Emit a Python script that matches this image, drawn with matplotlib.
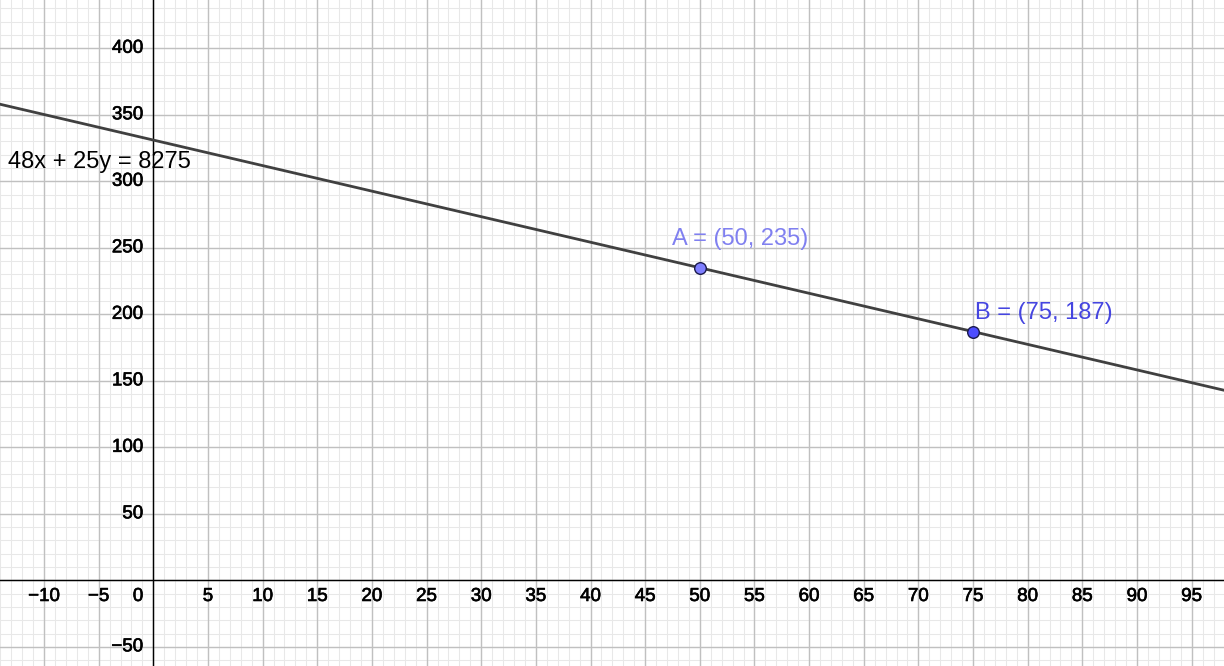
import matplotlib
matplotlib.use('Agg')
import matplotlib.pyplot as plt
import matplotlib.patheffects as pe
import numpy as np

# line a*x + b*y = c
a, b, c = 48, 25, 8275
pt_names = ['A', 'B']
pt_x = [50, 75]
pt_y = [235, 187]
pt_face = ['#7f7fff', '#4d4dff']
pt_text = ['#8080f0', '#4545e0']
pt_offs = [(-19.7, 16.5), (1.4, 8.8)]  # label offsets in points

x_ticks = [-10, -5, 5, 10, 15, 20, 25, 30, 35, 40, 45, 50, 55, 60, 65, 70, 75, 80, 85, 90, 95]
y_ticks = [-50, 50, 100, 150, 200, 250, 300, 350, 400]
xmin, xmax = -14.03, 97.96
ymin, ymax = -64.4, 436.3

plt.rcParams['font.family'] = ['Liberation Sans', 'DejaVu Sans']
fig = plt.figure(figsize=(12.24, 6.66), dpi=100)
ax = fig.add_axes([0, 0, 1, 1])
ax.set_xlim(xmin, xmax)
ax.set_ylim(ymin, ymax)
for s in ax.spines.values():
    s.set_visible(False)
ax.set_xticks([])
ax.set_yticks([])

# grid
for gx in np.arange(-14, 98, 1):
    ax.axvline(gx, color='#e8e8e8', lw=0.75, zorder=0)
for gy in np.arange(-60, 440, 10):
    ax.axhline(gy, color='#e8e8e8', lw=0.75, zorder=0)
for gx in np.arange(-10, 98, 5):
    ax.axvline(gx, color='#c0c0c0', lw=1.0, zorder=1)
for gy in np.arange(-50, 440, 50):
    ax.axhline(gy, color='#c0c0c0', lw=1.0, zorder=1)
ax.axhline(0, color='black', lw=1.0, zorder=2)
ax.axvline(0, color='black', lw=1.0, zorder=2)

# tick labels (slightly heavier, like the reference)
heavy = [pe.withStroke(linewidth=0.45, foreground='black')]
tick_kw = dict(fontsize=13.5, color='black', textcoords='offset points', path_effects=heavy)
for t in x_ticks:
    ax.annotate(str(t).replace('-', '\u2212'), (t, 0), xytext=(0, -5.5),
                ha='center', va='top', **tick_kw)
ax.annotate('0', (0, 0), xytext=(-7.2, -5.5), ha='right', va='top', **tick_kw)
for t in y_ticks:
    ax.annotate(str(t).replace('-', '\u2212'), (0, t), xytext=(-7.2, 0),
                ha='right', va='center', **tick_kw)

# line
lx = np.array([xmin, xmax])
ly = (c - a * lx) / b
ax.plot(lx, ly, color='#404040', lw=2.0, zorder=3)
ax.text(8 / 1224 * (xmax - xmin) + xmin, 310, '%dx + %dy = %d' % (a, b, c),
        fontsize=17, color='black', ha='left', va='baseline', zorder=4)

# points
for n, x, y, fc, tc, off in zip(pt_names, pt_x, pt_y, pt_face, pt_text, pt_offs):
    ax.scatter([x], [y], s=70, color=fc, edgecolors='#1a1a4d', linewidths=1.0, zorder=5)
    ax.annotate('%s = (%d, %d)' % (n, x, y), (x, y), xytext=off, textcoords='offset points',
                ha='left', va='baseline', fontsize=17, color=tc, zorder=6)

fig.savefig('out.png', dpi=100)
